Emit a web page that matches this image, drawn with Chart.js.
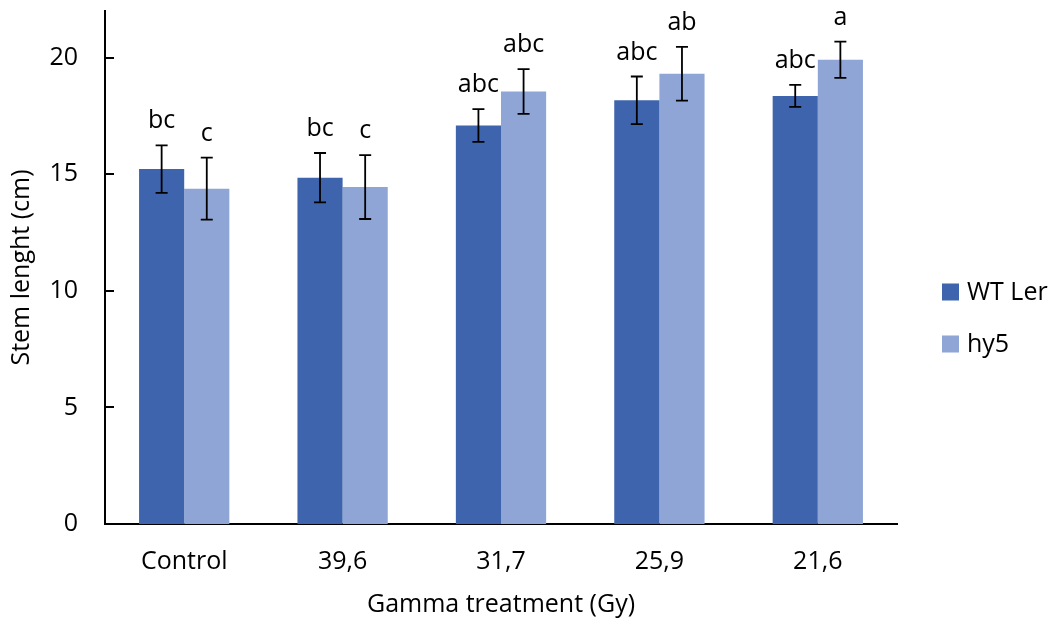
<!DOCTYPE html>
<html>
<head>
<meta charset="utf-8">
<script src="https://cdn.jsdelivr.net/npm/chart.js@4/dist/chart.umd.min.js"></script>
<style>
  html, body { margin: 0; padding: 0; background: #fff; }
  canvas { display: block; }
</style>
</head>
<body>
<canvas id="chart" width="1054" height="621"></canvas>
<script>
// values
const categories = ['Control', '39,6', '31,7', '25,9', '21,6'];
const wtLer = [15.22, 14.85, 17.09, 18.17, 18.36];
const wtLerErr = [1.02, 1.06, 0.70, 1.02, 0.47];
const hy5 = [14.38, 14.45, 18.55, 19.31, 19.91];
const hy5Err = [1.33, 1.37, 0.96, 1.15, 0.78];
const wtLerLetters = ['bc', 'bc', 'abc', 'abc', 'abc'];
const hy5Letters = ['c', 'c', 'abc', 'ab', 'a'];
const yTicks = [0, 5, 10, 15, 20];

const FONT = "'Open Sans', 'Liberation Sans', sans-serif";
const FSIZE = 25;

// error bars + significance letters
const errorBars = {
  id: 'errorBars',
  afterDatasetsDraw(chart) {
    const ctx = chart.ctx;
    const y = chart.scales.y;
    ctx.save();
    chart.data.datasets.forEach((ds, i) => {
      const meta = chart.getDatasetMeta(i);
      meta.data.forEach((bar, j) => {
        const v = ds.data[j];
        const e = ds.errors[j];
        const top = y.getPixelForValue(v + e);
        const bot = y.getPixelForValue(v - e);
        ctx.strokeStyle = '#000';
        ctx.lineWidth = 1.8;
        ctx.beginPath();
        ctx.moveTo(bar.x, top); ctx.lineTo(bar.x, bot);
        ctx.moveTo(bar.x - 6, top); ctx.lineTo(bar.x + 6, top);
        ctx.moveTo(bar.x - 6, bot); ctx.lineTo(bar.x + 6, bot);
        ctx.stroke();
        ctx.fillStyle = '#000';
        ctx.font = FSIZE + 'px ' + FONT;
        ctx.textAlign = 'center';
        ctx.textBaseline = 'alphabetic';
        ctx.fillText(ds.letters[j], bar.x, top - 17);
      });
    });
    ctx.restore();
  }
};

// inside tick marks on the y axis, plus the legend on the right
const extras = {
  id: 'extras',
  afterDraw(chart) {
    const ctx = chart.ctx;
    const y = chart.scales.y;
    const area = chart.chartArea;
    ctx.save();
    ctx.strokeStyle = '#000';
    ctx.lineWidth = 2;
    ctx.beginPath();
    yTicks.forEach(t => {
      if (t === 0) return;
      const py = Math.round(y.getPixelForValue(t));
      ctx.moveTo(area.left, py);
      ctx.lineTo(area.left + 9, py);
    });
    ctx.stroke();

    ctx.font = FSIZE + 'px ' + FONT;
    ctx.textAlign = 'left';
    ctx.textBaseline = 'middle';
    chart.data.datasets.forEach((ds, i) => {
      const cy = 292 + i * 52;
      const bx = area.right + 45;
      ctx.fillStyle = ds.backgroundColor;
      ctx.fillRect(bx, cy - 8.5, 17, 17);
      ctx.fillStyle = '#000';
      ctx.fillText(ds.label, bx + 25, cy + 1);
    });
    ctx.restore();
  }
};

new Chart(document.getElementById('chart'), {
  type: 'bar',
  data: {
    labels: categories,
    datasets: [
      { label: 'WT Ler', data: wtLer, errors: wtLerErr, letters: wtLerLetters,
        backgroundColor: '#3D64AC', borderWidth: 0 },
      { label: 'hy5', data: hy5, errors: hy5Err, letters: hy5Letters,
        backgroundColor: '#8FA5D5', borderWidth: 0 }
    ]
  },
  options: {
    responsive: false,
    animation: false,
    layout: { padding: { top: 11, right: 157, left: 0, bottom: 0 } },
    datasets: { bar: { categoryPercentage: 0.57, barPercentage: 1.0 } },
    plugins: {
      legend: { display: false },
      tooltip: { enabled: false }
    },
    scales: {
      x: {
        grid: { display: false, drawTicks: false },
        border: { display: true, color: '#000', width: 2 },
        ticks: { color: '#000', font: { family: FONT, size: FSIZE }, padding: 23 },
        title: { display: true, text: 'Gamma treatment (Gy)', color: '#000',
                 font: { family: FONT, size: FSIZE }, padding: { top: 0, bottom: 1 } },
        afterFit(scale) {
          scale.height = 97;
          scale.paddingLeft = 0;
          scale.paddingRight = 0;
        }
      },
      y: {
        min: 0,
        max: 22,
        grid: { display: false, drawTicks: false },
        border: { display: true, color: '#000', width: 2 },
        ticks: { color: '#000', font: { family: FONT, size: FSIZE }, padding: 27, stepSize: 5 },
        afterBuildTicks(scale) { scale.ticks = yTicks.map(v => ({ value: v })); },
        title: { display: true, text: 'Stem lenght (cm)', color: '#000',
                 font: { family: FONT, size: FSIZE }, padding: { top: 7, bottom: 0 } },
        afterFit(scale) {
          scale.width = 105;
          scale.paddingTop = 0;
          scale.paddingBottom = 0;
        }
      }
    }
  },
  plugins: [errorBars, extras]
});
</script>
</body>
</html>
